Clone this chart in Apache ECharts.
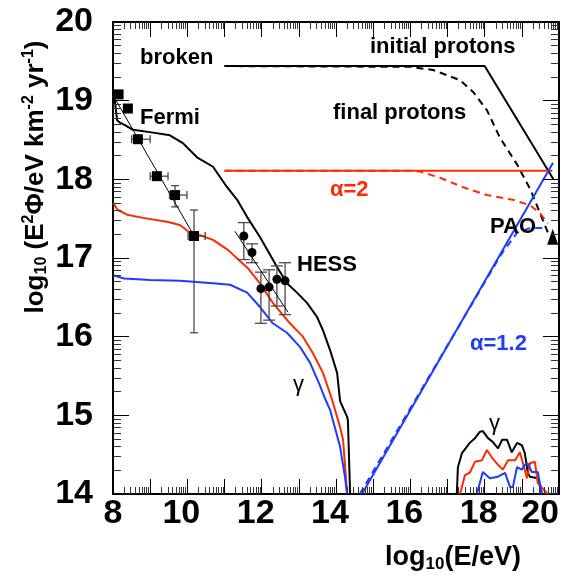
<!DOCTYPE html>
<html>
<head>
<meta charset="utf-8">
<script src="https://cdn.jsdelivr.net/npm/echarts@6/dist/echarts.min.js"></script>
<style>
  html, body { margin: 0; padding: 0; background: #fff; }
  #chart { width: 569px; height: 577px; }
</style>
</head>
<body>
<div id="chart"></div>
<script>
// ---- spectra: log10(E/eV) vs log10(E^2 Phi / eV km^-2 yr^-1) ----

// proton injection spectra
const initialProtonE    = [11.0, 18.0, 19.85];
const initialProtonFlux = [19.44, 19.44, 18.0];

const finalProtonE    = [11.0, 16.0, 16.61, 17.34, 17.69, 18.06, 18.41, 18.87, 19.22, 19.49, 19.72];
const finalProtonFlux = [19.44, 19.43, 19.39, 19.26, 19.11, 18.88, 18.53, 18.19, 17.88, 17.57, 17.30];

const alpha2E    = [11.0, 19.82];
const alpha2Flux = [18.11, 18.11];

const alpha2FinalE    = [11.0, 16.0, 16.26, 16.80, 17.42, 18.06, 18.76, 19.22, 19.49, 19.70];
const alpha2FinalFlux = [18.11, 18.11, 18.10, 18.02, 17.90, 17.80, 17.74, 17.67, 17.57, 17.44];

const alpha12E    = [14.70, 19.84];
const alpha12Flux = [14.00, 18.21];

const alpha12FinalE    = [14.64, 18.45, 18.87, 19.22, 19.60];
const alpha12FinalFlux = [14.00, 17.05, 17.32, 17.38, 17.38];

// cascade photons (broken spectrum, black)
const gammaBrokenLowE    = [8.0, 8.05, 8.11, 8.19, 8.32, 8.54, 8.99, 9.53, 9.88, 10.26, 10.69, 11.07, 11.34, 11.61, 11.95, 12.41, 12.68, 12.95, 13.22, 13.49, 13.65, 13.84, 14.03, 14.11, 14.30, 14.32, 14.38];
const gammaBrokenLowFlux = [19.12, 19.0, 18.75, 18.72, 18.69, 18.63, 18.60, 18.56, 18.46, 18.28, 18.16, 17.90, 17.74, 17.52, 17.27, 16.89, 16.68, 16.56, 16.43, 16.25, 16.08, 15.83, 15.54, 15.18, 14.98, 14.94, 14.0];
const gammaBrokenHighE    = [17.25, 17.28, 17.39, 17.60, 17.74, 17.87, 17.95, 18.09, 18.22, 18.36, 18.47, 18.60, 18.73, 18.87, 19.00, 19.08, 19.16, 19.22, 19.43, 19.54];
const gammaBrokenHighFlux = [14.0, 14.34, 14.52, 14.65, 14.71, 14.79, 14.80, 14.71, 14.66, 14.58, 14.69, 14.69, 14.53, 14.65, 14.62, 14.52, 14.27, 14.22, 14.20, 14.0];

// cascade photons (alpha = 2, red)
const gammaA2LowE    = [8.0, 8.13, 8.38, 8.81, 9.45, 9.80, 10.07, 10.34, 10.69, 11.1, 11.42, 11.61, 11.95, 12.30, 12.76, 13.11, 13.38, 13.65, 13.88, 14.11, 14.19, 14.30];
const gammaA2LowFlux = [17.70, 17.61, 17.55, 17.51, 17.46, 17.42, 17.32, 17.29, 17.23, 17.10, 16.96, 16.88, 16.68, 16.43, 16.17, 16.00, 15.79, 15.54, 15.22, 14.85, 14.69, 14.0];
const gammaA2HighE    = [17.34, 17.47, 17.60, 17.74, 17.93, 18.06, 18.20, 18.36, 18.49, 18.63, 18.82, 18.95, 19.03, 19.14, 19.22, 19.35, 19.43, 19.54, 19.70];
const gammaA2HighFlux = [14.0, 14.24, 14.27, 14.41, 14.43, 14.56, 14.46, 14.37, 14.31, 14.43, 14.43, 14.53, 14.39, 14.20, 14.39, 14.41, 14.14, 14.08, 14.0];

// cascade photons (alpha = 1.2, blue)
const gammaA12LowE    = [8.0, 8.3, 9.0, 9.8, 10.69, 11.15, 11.61, 11.95, 12.30, 12.68, 13.03, 13.30, 13.55, 13.70, 13.84, 14.11, 14.24, 14.30];
const gammaA12LowFlux = [16.78, 16.74, 16.72, 16.71, 16.68, 16.66, 16.56, 16.38, 16.17, 16.05, 15.87, 15.67, 15.40, 15.22, 15.07, 14.60, 14.22, 14.0];
const gammaA12HighE    = [17.79, 17.95, 18.14, 18.36, 18.55, 18.68, 18.76, 18.87, 19.00, 19.08, 19.16, 19.27, 19.43, 19.54];
const gammaA12HighFlux = [14.0, 14.28, 14.20, 14.22, 14.27, 14.09, 14.09, 14.34, 14.31, 14.37, 14.39, 14.28, 14.28, 14.0];

// Fermi measurements
const fermiE     = [8.15, 8.40, 8.67, 9.18, 9.67, 10.18];
const fermiFlux  = [19.08, 18.90, 18.51, 18.04, 17.80, 17.28];
const fermiELow  = [8.15, 8.40, 8.50, 9.00, 9.52, 10.02];
const fermiEHigh = [8.15, 8.40, 9.00, 9.48, 9.99, 10.48];
const fermiFLow  = [19.08, 18.90, 18.51, 18.04, 17.65, 16.05];
const fermiFHigh = [19.08, 18.90, 18.51, 18.04, 17.92, 17.61];
const fermiFitE    = [8.0, 10.22];
const fermiFitFlux = [19.07, 17.25];

// HESS measurements
const hessE     = [11.52, 11.74, 11.98, 12.20, 12.41, 12.63];
const hessFlux  = [17.28, 17.07, 16.61, 16.63, 16.73, 16.71];
const hessFLow  = [16.98, 16.94, 16.17, 16.21, 16.39, 16.28];
const hessFHigh = [17.45, 17.18, 16.82, 16.85, 16.90, 16.94];
const hessFitE    = [11.28, 12.71];
const hessFitFlux = [17.34, 16.31];

// Pierre Auger point
const paoE    = [19.83];
const paoFlux = [17.27];

// axis labels
const xLabelValues = [8, 10, 12, 14, 16, 18, 20];
const yLabelValues = [14, 15, 16, 17, 18, 19, 20];

// ---------------------------------------------------------------
const FONT = '"Liberation Sans", Arial, Helvetica, sans-serif';
const BLACK = '#000000';
const RED = '#ff2a00';
const BLUE = '#1e3cff';
const X_MIN = 8, X_MAX = 20, Y_MIN = 14, Y_MAX = 20;
const GRID = { left: 113, right: 10, top: 22, bottom: 83 };
const W = 569, H = 577;
// data units per screen pixel, used to give the frame ticks a fixed pixel length
const X_PER_PX = (X_MAX - X_MIN) / (W - GRID.left - GRID.right);
const Y_PER_PX = (Y_MAX - Y_MIN) / (H - GRID.top - GRID.bottom);

const zip = (xs, ys) => xs.map((x, i) => [x, ys[i]]);

// tick values: integers are major, log-spaced values inside each unit are minor
function tickValues(a, b) {
  const r = [];
  for (let k = a; k <= b; k++) {
    r.push({ v: k, minor: false });
    if (k < b) for (let m = 2; m <= 9; m++) r.push({ v: k + Math.log10(m), minor: true });
  }
  return r;
}

// inward tick segments on all four sides of the frame
function frameTickLines() {
  const out = [];
  const style = minor => ({ color: minor ? '#333333' : BLACK, width: 1, opacity: 1 });
  tickValues(X_MIN, X_MAX).forEach(t => {
    const dy = (t.minor ? 7 : 15) * Y_PER_PX;
    out.push({ coords: [[t.v, Y_MIN], [t.v, Y_MIN + dy]], lineStyle: style(t.minor) });
    out.push({ coords: [[t.v, Y_MAX], [t.v, Y_MAX - dy]], lineStyle: style(t.minor) });
  });
  tickValues(Y_MIN, Y_MAX).forEach(t => {
    const dx = (t.minor ? 8 : 16) * X_PER_PX;
    out.push({ coords: [[X_MIN, t.v], [X_MIN + dx, t.v]], lineStyle: style(t.minor) });
    out.push({ coords: [[X_MAX, t.v], [X_MAX - dx, t.v]], lineStyle: style(t.minor) });
  });
  return out;
}

function lineSeries(name, xs, ys, color, opts) {
  opts = opts || {};
  return {
    name, type: 'line', xAxisIndex: 0, yAxisIndex: 0,
    data: zip(xs, ys), showSymbol: false, symbol: 'none', smooth: false,
    clip: true, silent: true, z: opts.z || 3,
    lineStyle: { color, width: opts.width || 2, type: opts.dash ? [7, 5] : 'solid' }
  };
}

function errorBars(name, data, cap) {
  return {
    name, type: 'custom', xAxisIndex: 0, yAxisIndex: 0, z: 5, silent: true,
    data,
    renderItem(params, api) {
      const y = api.value(1), x = api.value(0);
      const xl = api.value(2), xh = api.value(3), yl = api.value(4), yh = api.value(5);
      const kids = [];
      const seg = (p, q) => kids.push({ type: 'line', shape: { x1: p[0], y1: p[1], x2: q[0], y2: q[1] }, style: { stroke: '#4a4a4a', lineWidth: 1.3 } });
      if (xh > xl) {
        const a = api.coord([xl, y]), b = api.coord([xh, y]);
        seg(a, b);
        seg([a[0], a[1] - cap], [a[0], a[1] + cap]);
        seg([b[0], b[1] - cap], [b[0], b[1] + cap]);
      }
      if (yh > yl) {
        const a = api.coord([x, yl]), b = api.coord([x, yh]);
        seg(a, b);
        seg([a[0] - cap, a[1]], [a[0] + cap, a[1]]);
        seg([b[0] - cap, b[1]], [b[0] + cap, b[1]]);
      }
      return { type: 'group', children: kids };
    }
  };
}

function frameAxis(position, min, max, label) {
  return {
    type: 'value', position, min, max, interval: 1,
    axisLine: { show: true, onZero: false, lineStyle: { color: BLACK, width: 2 } },
    axisTick: { show: false },
    axisLabel: label || { show: false },
    splitLine: { show: false }
  };
}

const xLabel = {
  show: true, customValues: xLabelValues, margin: 3, color: BLACK,
  fontFamily: FONT, fontSize: 34, fontWeight: 'bold',
  alignMaxLabel: 'right',
  formatter: v => (v === 8 || v === 20) ? '{e|' + v + '}' : '{m|' + v + '}',
  rich: {
    e: { fontFamily: FONT, fontSize: 34, fontWeight: 'bold', color: BLACK },
    m: { fontFamily: FONT, fontSize: 34, fontWeight: 'bold', color: BLACK, padding: [0, 12, 0, 0] }
  }
};
const yLabel = {
  show: true, customValues: yLabelValues, margin: 20, color: BLACK,
  fontFamily: FONT, fontSize: 34, fontWeight: 'bold'
};

function annot(text, x, y, color, size, weight) {
  return {
    type: 'text', x, y, z: 50, silent: true,
    style: {
      text, fill: color || BLACK, font: (weight || 'bold') + ' ' + (size || 22) + 'px ' + FONT,
      align: 'left', verticalAlign: 'middle'
    }
  };
}

const chart = echarts.init(document.getElementById('chart'), null, { renderer: 'canvas' });

const fermiErr = fermiE.map((e, i) => [e, fermiFlux[i], fermiELow[i], fermiEHigh[i], fermiFLow[i], fermiFHigh[i]]);
const hessErr = hessE.map((e, i) => [e, hessFlux[i], e, e, hessFLow[i], hessFHigh[i]]);

chart.setOption({
  animation: false,
  backgroundColor: '#ffffff',
  grid: GRID,
  xAxis: [
    frameAxis('bottom', X_MIN, X_MAX, xLabel),
    frameAxis('top', X_MIN, X_MAX, null)
  ],
  yAxis: [
    frameAxis('left', Y_MIN, Y_MAX, yLabel),
    frameAxis('right', Y_MIN, Y_MAX, null)
  ],
  series: [
    {
      name: 'frame ticks', type: 'lines', coordinateSystem: 'cartesian2d',
      xAxisIndex: 0, yAxisIndex: 0, z: 20, silent: true, polyline: false,
      effect: { show: false },
      lineStyle: { color: BLACK, width: 1, opacity: 1, curveness: 0 },
      data: frameTickLines()
    },
    lineSeries('initial protons', initialProtonE, initialProtonFlux, BLACK, { z: 3 }),
    lineSeries('final protons', finalProtonE, finalProtonFlux, BLACK, { dash: true, z: 3 }),
    lineSeries('gamma broken low', gammaBrokenLowE, gammaBrokenLowFlux, BLACK, { z: 3 }),
    lineSeries('gamma broken high', gammaBrokenHighE, gammaBrokenHighFlux, BLACK, { z: 3 }),
    lineSeries('alpha 2', alpha2E, alpha2Flux, RED, { z: 4 }),
    lineSeries('alpha 2 final', alpha2FinalE, alpha2FinalFlux, RED, { dash: true, z: 4 }),
    lineSeries('gamma alpha 2 low', gammaA2LowE, gammaA2LowFlux, RED, { z: 4 }),
    lineSeries('gamma alpha 2 high', gammaA2HighE, gammaA2HighFlux, RED, { z: 4 }),
    lineSeries('alpha 1.2', alpha12E, alpha12Flux, BLUE, { z: 4 }),
    lineSeries('alpha 1.2 final', alpha12FinalE, alpha12FinalFlux, BLUE, { dash: true, z: 4 }),
    lineSeries('gamma alpha 1.2 low', gammaA12LowE, gammaA12LowFlux, BLUE, { z: 4 }),
    lineSeries('gamma alpha 1.2 high', gammaA12HighE, gammaA12HighFlux, BLUE, { z: 4 }),
    lineSeries('Fermi fit', fermiFitE, fermiFitFlux, BLACK, { width: 1, z: 5 }),
    lineSeries('HESS fit', hessFitE, hessFitFlux, BLACK, { width: 1, z: 5 }),
    errorBars('Fermi errors', fermiErr, 4),
    errorBars('HESS errors', hessErr, 6),
    {
      name: 'Fermi', type: 'scatter', xAxisIndex: 0, yAxisIndex: 0, z: 6, silent: true,
      data: zip(fermiE, fermiFlux), symbol: 'rect', symbolSize: 10,
      itemStyle: { color: BLACK, opacity: 1 }
    },
    {
      name: 'HESS', type: 'scatter', xAxisIndex: 0, yAxisIndex: 0, z: 6, silent: true,
      data: zip(hessE, hessFlux), symbol: 'circle', symbolSize: 9,
      itemStyle: { color: BLACK, opacity: 1 }
    },
    {
      name: 'PAO', type: 'scatter', xAxisIndex: 0, yAxisIndex: 0, z: 6, silent: true,
      data: zip(paoE, paoFlux), symbol: 'triangle', symbolSize: [11, 16],
      itemStyle: { color: BLACK, opacity: 1 }
    }
  ],
  graphic: [
    annot('broken', 140, 58),
    annot('initial protons', 370, 47),
    annot('final protons', 333, 113),
    annot('Fermi', 140, 118),
    annot('HESS', 297, 265),
    annot('\u03b1=2', 330, 190, RED),
    annot('PAO', 490, 227),
    annot('\u03b1=1.2', 470, 344, BLUE),
    annot('\u03b3', 293, 385, BLACK, 22, 'normal'),
    annot('\u03b3', 489, 424, BLACK, 22, 'normal'),
    {
      type: 'text', x: 385, y: 558, z: 50, silent: true,
      style: {
        text: '{m|log}{s|10}{m|(E/eV)}',
        align: 'left', verticalAlign: 'middle',
        rich: {
          m: { fontFamily: FONT, fontSize: 27, fontWeight: 'bold', fill: BLACK, color: BLACK },
          s: { fontFamily: FONT, fontSize: 17, fontWeight: 'bold', fill: BLACK, color: BLACK, padding: [12, 0, 0, 0] }
        }
      }
    },
    {
      type: 'text', x: 36, y: 177, rotation: Math.PI / 2, z: 50, silent: true,
      style: {
        text: '{m|log}{s|10}{m| (E}{u|2}{m|\u03a6/eV km}{u|-2}{m| yr}{u|-1}{m|)}',
        align: 'center', verticalAlign: 'middle',
        rich: {
          m: { fontFamily: FONT, fontSize: 26, fontWeight: 'bold', fill: BLACK, color: BLACK },
          s: { fontFamily: FONT, fontSize: 16, fontWeight: 'bold', fill: BLACK, color: BLACK, padding: [12, 0, 0, 0] },
          u: { fontFamily: FONT, fontSize: 16, fontWeight: 'bold', fill: BLACK, color: BLACK, padding: [0, 0, 14, 0] }
        }
      }
    }
  ]
});
</script>
</body>
</html>
